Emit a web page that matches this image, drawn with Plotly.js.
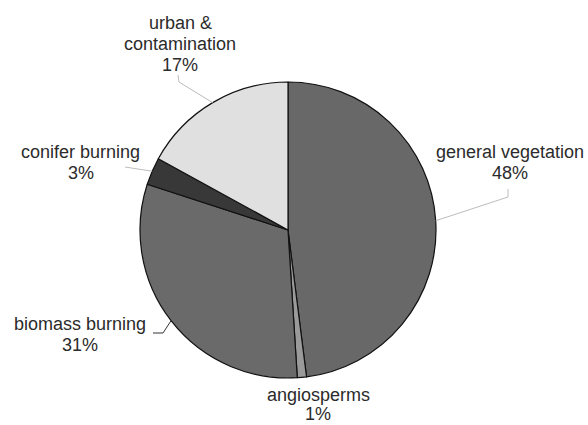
<!DOCTYPE html>
<html><head><meta charset="utf-8">
<script src="https://cdn.plot.ly/plotly-3.0.1.min.js"></script>
<style>html,body{margin:0;padding:0;background:#fff}</style>
</head><body>
<div id="chart" style="width:588px;height:425px"></div>
<script>
const categories = ["general vegetation", "angiosperms", "biomass burning", "conifer burning", "urban &|contamination"];
const values = [48, 1, 31, 3, 17];
const colors = ["#686868", "#9a9a9a", "#6a6a6a", "#383838", "#e0e0e0"];

const W = 588, H = 425;
const cx = 288, cy = 230, R = 148;
const px = x => x / W, py = y => 1 - y / H;

// label centre x and first-line y (pixels), leader elbow points
const labelPos = [[510, 152], [318, 395], [80, 324], [81, 152], [180, 23]];
const lineGap = 20;
const elbows = [[[508, 197], [508, 189]], null, [[163, 333], [153, 333]], [[125, 167]], [[179, 82], [178, 75]]];
const leaderColors = ["#bdbdbd", null, "#333333", "#bdbdbd", "#bdbdbd"];

const total = values.reduce((a, b) => a + b, 0);
let cum = 0;
const shapes = [], annotations = [];
values.forEach((v, i) => {
  const mid = (cum + v / 2) / total * 2 * Math.PI;
  cum += v;
  const ex = cx + R * Math.sin(mid), ey = cy - R * Math.cos(mid);
  if (elbows[i]) {
    let path = `M ${px(ex)} ${py(ey)}`;
    elbows[i].forEach(p => { path += ` L ${px(p[0])} ${py(p[1])}`; });
    shapes.push({type: 'path', xref: 'paper', yref: 'paper', path: path,
      line: {color: leaderColors[i], width: 1}});
  }
  const lines = categories[i].split('|').concat([Math.round(v / total * 100) + '%']);
  const gap = i === 1 ? 19 : 21;
  lines.forEach((t, k) => {
    annotations.push({xref: 'paper', yref: 'paper', x: px(labelPos[i][0]), y: py(labelPos[i][1] + k * gap),
      xanchor: 'center', yanchor: 'middle', showarrow: false, align: 'center', text: t,
      font: {family: 'Liberation Sans, Arial, sans-serif', size: 18, color: '#2b2b2b'}});
  });
});

const trace = {
  type: 'pie', values: values, labels: categories, sort: false, direction: 'clockwise', rotation: 0,
  marker: {colors: colors, line: {color: '#111', width: 1.2}},
  textinfo: 'none', hoverinfo: 'none',
  domain: {x: [px(cx - R), px(cx + R)], y: [py(cy + R), py(cy - R)]}
};
Plotly.newPlot('chart', [trace], {
  width: W, height: H, margin: {l: 0, r: 0, t: 0, b: 0},
  showlegend: false, paper_bgcolor: '#fff', shapes: shapes, annotations: annotations
}, {staticPlot: true});
</script>
</body></html>
